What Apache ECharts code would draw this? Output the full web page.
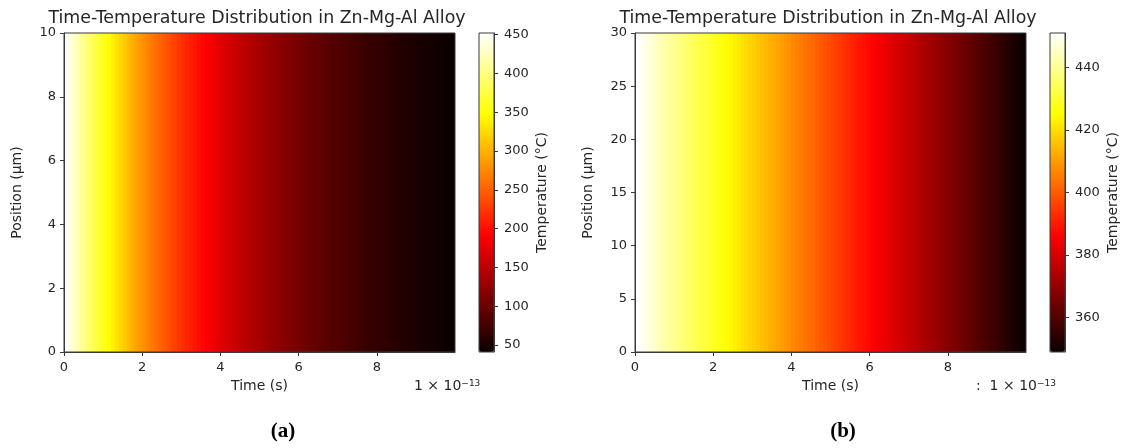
<!DOCTYPE html>
<html><head><meta charset="utf-8">
<script src="https://cdn.jsdelivr.net/npm/echarts@6/dist/echarts.min.js"></script>
<style>html,body{margin:0;padding:0;background:#fff}#c{width:1126px;height:448px}</style>
</head><body><div id="c"></div><script>
const TITLE = 'Time-Temperature Distribution in Zn-Mg-Al Alloy';
// time column edges (units of 1e-13 s)
const TIME_EDGES = [0,0.1,0.2,0.3,0.4,0.5,0.6,0.7,0.8,0.9,1.0,1.1,1.2,1.3,1.4,1.5,1.6,1.7,1.8,1.9,2.0,2.1,2.2,2.3,2.4,2.5,2.6,2.7,2.8,2.9,3.0,3.1,3.2,3.3,3.4,3.5,3.6,3.7,3.8,3.9,4.0,4.1,4.2,4.3,4.4,4.5,4.6,4.7,4.8,4.9,5.0,5.1,5.2,5.3,5.4,5.5,5.6,5.7,5.8,5.9,6.0,6.1,6.2,6.3,6.4,6.5,6.6,6.7,6.8,6.9,7.0,7.1,7.2,7.3,7.4,7.5,7.6,7.7,7.8,7.9,8.0,8.1,8.2,8.3,8.4,8.5,8.6,8.7,8.8,8.9,9.0,9.1,9.2,9.3,9.4,9.5,9.6,9.7,9.8,9.9,10.0];
// temperature (°C) per time column, panel (a)
const TEMP_A = [452.0,441.2,430.6,420.3,410.2,400.4,390.8,381.4,372.3,363.4,354.7,346.2,337.9,329.8,321.9,314.2,306.7,299.3,292.2,285.2,278.3,271.7,265.2,258.8,252.6,246.6,240.7,234.9,229.3,223.8,218.4,213.2,208.1,203.1,198.2,193.5,188.8,184.3,179.9,175.6,171.4,167.3,163.3,159.4,155.6,151.8,148.2,144.6,141.2,137.8,134.5,131.3,128.1,125.1,122.1,119.1,116.3,113.5,110.8,108.1,105.6,103.0,100.6,98.1,95.8,93.5,91.3,89.1,86.9,84.9,82.8,80.8,78.9,77.0,75.2,73.4,71.6,69.9,68.2,66.6,65.0,63.4,61.9,60.4,59.0,57.6,56.2,54.9,53.5,52.3,51.0,49.8,48.6,47.4,46.3,45.2,44.1,43.1,42.0,41.0];
// temperature (°C) per time column, panel (b)
const TEMP_B = [451.0,449.8,448.6,447.4,446.2,445.0,443.9,442.7,441.6,440.4,439.3,438.2,437.0,435.9,434.8,433.7,432.6,431.5,430.4,429.3,428.2,427.1,426.0,425.0,423.9,422.8,421.7,420.7,419.6,418.6,417.5,416.5,415.4,414.4,413.3,412.3,411.2,410.2,409.1,408.1,407.0,406.0,404.9,403.9,402.9,401.9,400.8,399.8,398.8,397.8,396.7,395.7,394.7,393.7,392.6,391.6,390.6,389.6,388.6,387.6,386.5,385.5,384.6,383.6,382.7,381.7,380.7,379.8,378.8,377.8,376.9,375.9,375.0,374.0,373.0,372.1,371.1,370.1,369.2,368.2,367.3,366.3,365.3,364.4,363.4,362.5,361.5,360.5,359.6,358.6,357.6,356.7,355.7,354.8,353.8,352.8,351.9,350.9,349.9,349.0];
const POS_RANGE_A = [0, 10];
const POS_RANGE_B = [0, 30];
const X_RANGE = [0, 10];
const X_TICKS = [0, 2, 4, 6, 8];
const Y_TICKS_A = [0, 2, 4, 6, 8, 10];
const Y_TICKS_B = [0, 5, 10, 15, 20, 25, 30];
const CBAR_TICKS_A = [50, 100, 150, 200, 250, 300, 350, 400, 450];
const CBAR_TICKS_B = [360, 380, 400, 420, 440];
const X_NAME = 'Time (s)';
const Y_NAME = 'Position (μm)';
const C_NAME = 'Temperature (°C)';

// matplotlib "hot" colormap as gradient stops
function hot(n) {
  const c = v => Math.max(0, Math.min(1, v));
  const r = c(0.0416 + (1 - 0.0416) * n / 0.365079);
  const g = c((n - 0.365079) / (0.746032 - 0.365079));
  const b = c((n - 0.746032) / (1 - 0.746032));
  const h = v => Math.round(v * 255).toString(16).padStart(2, '0');
  return '#' + h(r) + h(g) + h(b);
}
const HOT = [];
for (let i = 0; i <= 100; i++) HOT.push(hot(i / 100));

function cells(temps, posRange) {
  return temps.map((t, i) => [TIME_EDGES[i], TIME_EDGES[i + 1], posRange[0], posRange[1], t]);
}

function renderCell(params, api) {
  const p0 = api.coord([api.value(0), api.value(3)]);
  const p1 = api.coord([api.value(1), api.value(2)]);
  const cs = params.coordSys;
  const x0 = Math.round(p0[0]), x1 = Math.round(p1[0]);
  const r = echarts.graphic.clipRectByRect(
    { x: x0, y: p0[1], width: x1 - x0, height: p1[1] - p0[1] },
    { x: cs.x, y: cs.y, width: cs.width, height: cs.height });
  return r && { type: 'rect', shape: r, style: { fill: api.visual('color') } };
}

const FONT = 'DejaVu Sans';
const TXT = '#262626';
const LINE = '#3a3a3a';

const P = [
  { plot: { left: 64, top: 33, width: 391, height: 319 }, cbar: { left: 479, top: 33, width: 15, height: 319 }, pos: POS_RANGE_A, yt: Y_TICKS_A, ct: CBAR_TICKS_A, temps: TEMP_A },
  { plot: { left: 635, top: 33, width: 391, height: 319 }, cbar: { left: 1050, top: 33, width: 15, height: 319 }, pos: POS_RANGE_B, yt: Y_TICKS_B, ct: CBAR_TICKS_B, temps: TEMP_B }
];

const grid = [], xAxis = [], yAxis = [], series = [], visualMap = [];
P.forEach((p, k) => {
  const gi = grid.length;
  grid.push(Object.assign({ show: true, borderColor: LINE, borderWidth: 1, backgroundColor: 'transparent', z: 10 }, p.plot));
  grid.push(Object.assign({ show: true, borderColor: LINE, borderWidth: 1, backgroundColor: 'transparent', z: 10 }, p.cbar));
  const axisText = { color: TXT, fontFamily: FONT, fontSize: 13 };
  const nameText = { color: TXT, fontFamily: FONT, fontSize: 14 };
  xAxis.push({
    gridIndex: gi, type: 'value', min: X_RANGE[0], max: X_RANGE[1], z: 10,
    name: X_NAME, nameLocation: 'middle', nameGap: 25, nameTextStyle: nameText,
    axisLine: { show: true, onZero: false, lineStyle: { color: LINE, width: 1 } },
    axisTick: { show: true, inside: false, length: 4, customValues: X_TICKS, lineStyle: { color: LINE } },
    axisLabel: Object.assign({ margin: 9, customValues: X_TICKS }, axisText),
    splitLine: { show: false }
  });
  xAxis.push({ gridIndex: gi + 1, type: 'value', min: 0, max: 1, show: false, axisLine: { onZero: false } });
  yAxis.push({
    gridIndex: gi, type: 'value', min: p.pos[0], max: p.pos[1], z: 10,
    name: Y_NAME, nameLocation: 'middle', nameGap: 40, nameRotate: 90, nameTextStyle: nameText,
    axisLine: { show: true, onZero: false, lineStyle: { color: LINE, width: 1 } },
    axisTick: { show: true, inside: false, length: 4, customValues: p.yt, lineStyle: { color: LINE } },
    axisLabel: Object.assign({ margin: 8, customValues: p.yt }, axisText),
    splitLine: { show: false }
  });
  const tmin = Math.min(...p.temps), tmax = Math.max(...p.temps);
  yAxis.push({
    gridIndex: gi + 1, type: 'value', position: 'right', min: tmin, max: tmax, z: 10,
    name: C_NAME, nameLocation: 'middle', nameGap: 41, nameRotate: 90, nameTextStyle: nameText,
    axisLine: { show: true, onZero: false, lineStyle: { color: LINE, width: 1 } },
    axisTick: { show: true, inside: false, length: 4, customValues: p.ct, lineStyle: { color: LINE } },
    axisLabel: Object.assign({ margin: 10, customValues: p.ct }, axisText),
    splitLine: { show: false }
  });
  series.push({
    type: 'custom', xAxisIndex: gi, yAxisIndex: gi,
    renderItem: renderCell, encode: { x: [0, 1], y: [2, 3] },
    data: cells(p.temps, p.pos), silent: true, animation: false
  });
  visualMap.push({
    type: 'continuous', seriesIndex: k, dimension: 4, min: tmin, max: tmax,
    inRange: { color: HOT }, left: p.cbar.left, top: p.cbar.top,
    itemWidth: p.cbar.width, itemHeight: p.cbar.height, padding: 0,
    calculable: false, hoverLink: false, text: null, orient: 'vertical'
  });
});

const supText = (x, y, pre) => ({
  type: 'text', left: x, top: y,
  style: {
    text: (pre || '') + '1 × 10{s|−13}', fill: TXT, font: '14px "DejaVu Sans"',
    rich: { s: { fontSize: 9, verticalAlign: 'top', padding: [0, 0, 6, 0], fill: TXT, fontFamily: FONT } }
  }
});

const option = {
  backgroundColor: '#fff',
  animation: false,
  grid, xAxis, yAxis, series, visualMap,
  graphic: [
    { type: 'text', x: 257, y: 18, style: { text: TITLE, fill: TXT, font: '17.4px "DejaVu Sans"', textAlign: 'center', textVerticalAlign: 'middle' } },
    { type: 'text', x: 828, y: 18, style: { text: TITLE, fill: TXT, font: '17.4px "DejaVu Sans"', textAlign: 'center', textVerticalAlign: 'middle' } },
    supText(414, 379),
    supText(976, 379, ':  '),
    { type: 'text', x: 283, y: 432, style: { text: '(a)', fill: '#000', font: 'bold 21px "Liberation Serif"', textAlign: 'center', textVerticalAlign: 'middle' } },
    { type: 'text', x: 843, y: 432, style: { text: '(b)', fill: '#000', font: 'bold 21px "Liberation Serif"', textAlign: 'center', textVerticalAlign: 'middle' } }
  ]
};
echarts.init(document.getElementById('c'), null, { renderer: 'canvas' }).setOption(option);
</script></body></html>
